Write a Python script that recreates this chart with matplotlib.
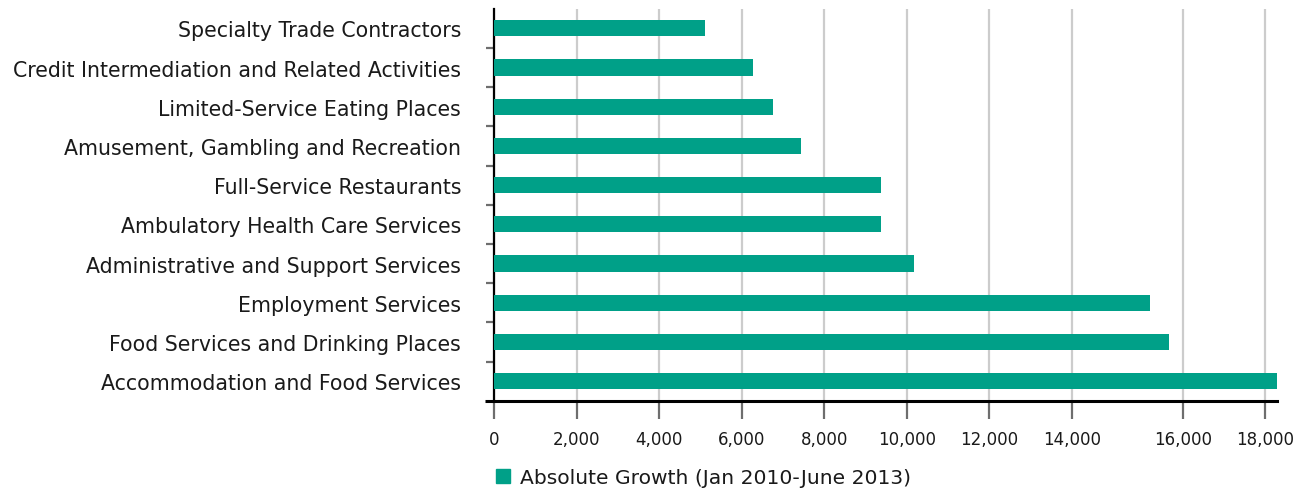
import matplotlib
matplotlib.use("Agg")
import matplotlib.pyplot as plt
from matplotlib.patches import Patch

# dados (de cima para baixo)
categorias = [
    "Specialty Trade Contractors",
    "Credit Intermediation and Related Activities",
    "Limited-Service Eating Places",
    "Amusement, Gambling and Recreation",
    "Full-Service Restaurants",
    "Ambulatory Health Care Services",
    "Administrative and Support Services",
    "Employment Services",
    "Food Services and Drinking Places",
    "Accommodation and Food Services",
]
crescimento = [5110, 6270, 6760, 7440, 9380, 9380, 10180, 15900, 16360, 18970]

# rotulos do eixo x (no original os dois ultimos ficam deslocados)
xticks_pos = [0, 2000, 4000, 6000, 8000, 10000, 12000, 14000, 16690, 18690]
xticks_txt = ["0", "2,000", "4,000", "6,000", "8,000", "10,000", "12,000",
              "14,000", "16,000", "18,000"]

legenda = "Absolute Growth (Jan 2010-June 2013)"
cor = "#00a088"

plt.rcParams["font.family"] = ["DejaVu Sans"]

fig = plt.figure(figsize=(13.04, 4.89), dpi=100)
ax = fig.add_axes([0.3791, 0.1785, 0.6000, 0.8016])

y = list(range(len(categorias)))
ax.barh(y, crescimento, height=0.41, color=cor, zorder=3)

ax.set_ylim(len(categorias) - 0.5, -0.5)
ax.set_xlim(0, max(crescimento))

# eixo y
ax.set_yticks(y)
ax.set_yticklabels(categorias, fontsize=14.8, color="#1a1a1a")
ax.tick_params(axis="y", which="major", length=0, pad=24)
ax.set_yticks([i + 0.5 for i in range(len(categorias) - 1)], minor=True)
ax.tick_params(axis="y", which="minor", length=6, width=1.6, color="#6e6e6e")

# eixo x
ax.set_xticks(xticks_pos)
ax.set_xticklabels(xticks_txt, fontsize=12, color="#1a1a1a")
ax.tick_params(axis="x", length=13, width=1.6, color="#6e6e6e", pad=8)
ax.grid(axis="x", color="#cccccc", linewidth=1.6, zorder=0)

for lado in ["top", "right"]:
    ax.spines[lado].set_visible(False)
ax.spines["left"].set_linewidth(1.6)
ax.spines["bottom"].set_linewidth(2.2)
# pedacinho da linha do eixo x que passa para a esquerda
ax.plot([-0.012, 0], [0, 0], transform=ax.transAxes, color="black",
        linewidth=2.2, clip_on=False, solid_capstyle="butt")

fig.legend(handles=[Patch(color=cor, label=legenda)], loc="center left",
           bbox_to_anchor=(0.366, 0.022), frameon=False, fontsize=14.6,
           handlelength=0.7, handleheight=0.7, handletextpad=0.5,
           labelcolor="#1a1a1a")

fig.savefig("out.png", dpi=100)
